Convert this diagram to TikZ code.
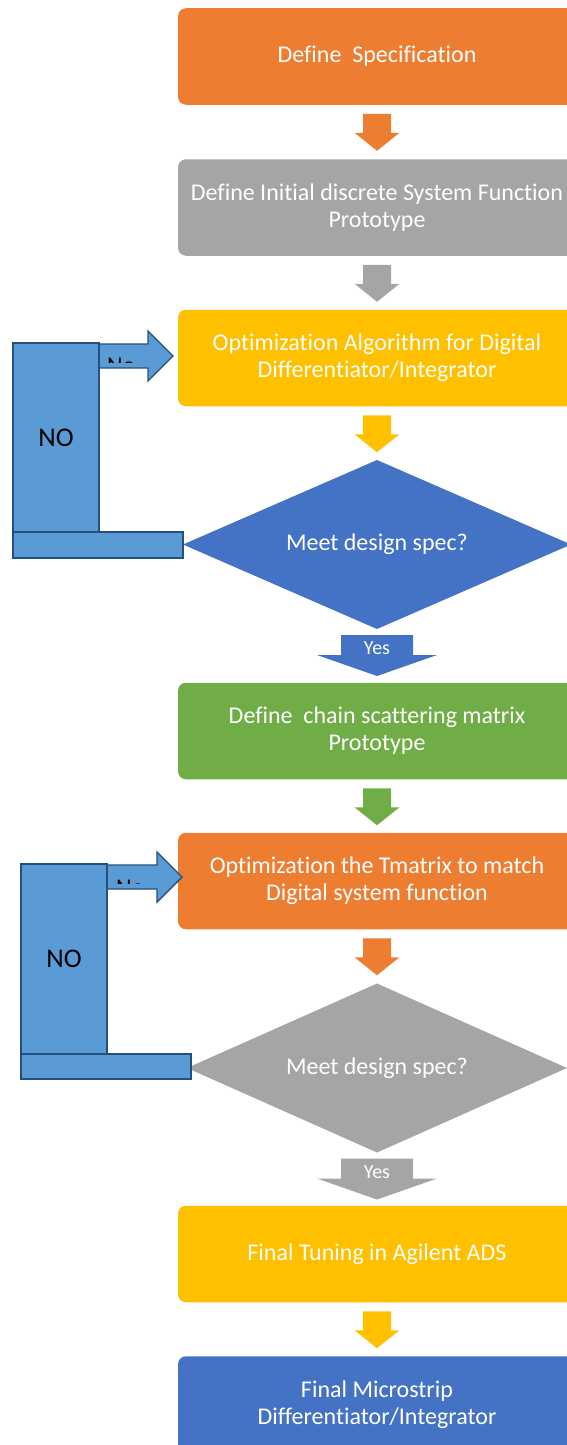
\documentclass[tikz,border=0pt]{standalone}
\usepackage{fontspec}
\setmainfont{Carlito}[Ligatures=NoCommon]
\usetikzlibrary{calc,shapes.geometric}
\definecolor{cOrange}{HTML}{ED7D31}
\definecolor{cGray}{HTML}{A5A5A5}
\definecolor{cYellow}{HTML}{FFC000}
\definecolor{cBlue}{HTML}{4472C4}
\definecolor{cGreen}{HTML}{70AD47}
\definecolor{cLoop}{HTML}{5B9BD5}
\definecolor{cLoopEdge}{HTML}{25507B}

% block arrow pointing down, hanging below a node
\newcommand\dnarrow[2]{%
  \fill[#1] ($(#2.south)+(-14,9)$) -- ++(28,0) -- ++(0,19) -- ++(8.5,0)
    -- ++(-22.5,18) -- ++(-22.5,-18) -- ++(8.5,0) -- cycle;}
% wide "Yes" arrow below a decision
\newcommand\yesarrow[2]{%
  \fill[#1] ($(#2.south)+(-36,6)$) -- ++(72,0) -- ++(0,20) -- ++(24,0)
    -- ++(-60,21) -- ++(-60,-21) -- ++(24,0) -- cycle;}
% block arrow pointing right, given its tip
\newcommand\rtarrow[1]{%
  \filldraw[loopshape] (#1) -- ++(-25,-25) -- ++(0,13) -- ++(-50,0)
    -- ++(0,24) -- ++(50,0) -- ++(0,13) -- cycle;}

\begin{document}
\begin{tikzpicture}[x=1pt,y=-1pt,
  txt/.style={font=\fontsize{24}{27}\selectfont, text=white, align=center},
  stepbox/.style={txt, rectangle, rounded corners=8pt, minimum width=398pt,
    minimum height=96.5pt, inner sep=0pt, outer sep=0pt},
  decision/.style={txt, diamond, minimum height=169pt, inner sep=0pt,
    outer sep=0pt},
  loopshape/.style={fill=cLoop, draw=cLoopEdge, line width=1.4pt},
  loopbox/.style={loopshape, rectangle, inner sep=0pt, outer sep=0pt,
    font=\fontsize{27}{30}\selectfont, text=black},
  yeslabel/.style={font=\fontsize{20}{22}\selectfont, text=white, inner sep=0pt}]
\useasboundingbox (0,0) rectangle (567,1445);
\clip (0,0) rectangle (567,1445);

% main flow
\node[stepbox, fill=cOrange] (b1) at (377,56.5) {Define~ Specification};
\node[stepbox, fill=cGray] (b2) at (377,207.5) {Define Initial discrete System Function\\Prototype};
\node[stepbox, fill=cYellow] (b3) at (377,358) {Optimization Algorithm for Digital\\Differentiator/Integrator};
\node[decision, fill=cBlue, minimum width=388pt, aspect=2.296] (d1) at (377,544.5) {Meet design spec?};
\node[stepbox, fill=cGreen] (b4) at (377,731) {Define~ chain scattering matrix\\Prototype};
\node[stepbox, fill=cOrange] (b5) at (377,881) {Optimization the Tmatrix to match\\Digital system function};
\node[decision, fill=cGray, minimum width=380pt, aspect=2.25] (d2) at (377,1068) {Meet design spec?};
\node[stepbox, fill=cYellow] (b6) at (377,1254) {Final Tuning in Agilent ADS};
\node[stepbox, fill=cBlue] (b7) at (377,1404.5) {Final Microstrip\\Differentiator/Integrator};

% connectors
\dnarrow{cOrange}{b1}
\dnarrow{cGray}{b2}
\dnarrow{cYellow}{b3}
\yesarrow{cBlue}{d1}
\node[yeslabel] (y1) at ($(d1.south)+(0,19.5)$) {Yes};
\dnarrow{cGreen}{b4}
\dnarrow{cOrange}{b5}
\yesarrow{cGray}{d2}
\node[yeslabel] (y2) at ($(d2.south)+(0,20)$) {Yes};
\dnarrow{cYellow}{b6}

% first NO loop
\rtarrow{$(b3.west)+(-5,-2)$}
\begin{scope}
  \clip (99,344) rectangle (148,362);
  \node[anchor=base west, inner sep=0pt, font=\fontsize{24}{27}\selectfont] (n1) at (107,373.5) {No};
\end{scope}
\node[loopbox, minimum width=86pt, minimum height=189pt] (loop1) at (56,437.5) {NO};
\node[loopbox, minimum width=170pt, minimum height=26pt] (bar1) at (98,545) {};

% second NO loop
\rtarrow{$(b5.west)+(4,-4)$}
\begin{scope}
  \clip (107,866) rectangle (156,883.5);
  \node[anchor=base west, inner sep=0pt, font=\fontsize{24}{27}\selectfont] (n2) at (116,895.5) {No};
\end{scope}
\node[loopbox, minimum width=86pt, minimum height=190pt] (loop2) at (64,959) {NO};
\node[loopbox, minimum width=170pt, minimum height=25pt] (bar2) at (106,1066.5) {};
\end{tikzpicture}
\end{document}
